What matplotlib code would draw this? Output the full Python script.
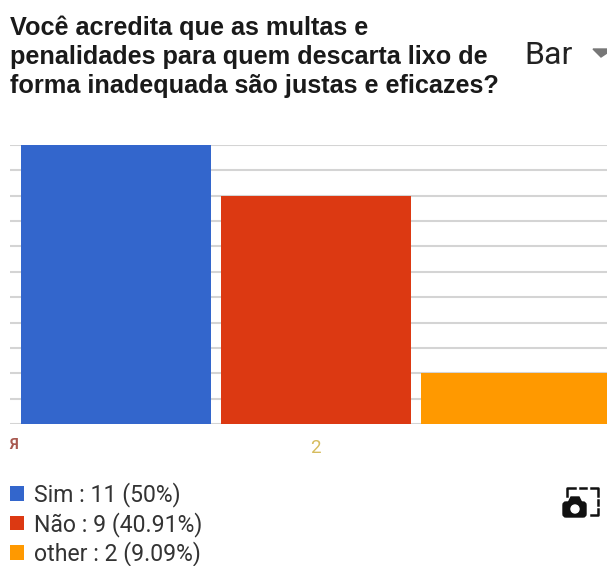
# -*- coding: utf-8 -*-
import matplotlib
matplotlib.use("Agg")
import matplotlib.pyplot as plt
from matplotlib.patches import Polygon, Circle, FancyBboxPatch

plt.rcParams["font.family"] = ["Roboto", "DejaVu Sans"]

# data
categories = ["Sim", "Não", "other"]
values = [11, 9, 2]
percents = ["50%", "40.91%", "9.09%"]
colors = ["#3366cc", "#dc3912", "#ff9900"]
title_lines = ["Você acredita que as multas e",
               "penalidades para quem descarta lixo de",
               "forma inadequada são justas e eficazes?"]

W, H = 607, 566
fig = plt.figure(figsize=(W / 100, H / 100), dpi=100, facecolor="white")

# overlay in pixel coordinates, for the things round the chart
over = fig.add_axes([0, 0, 1, 1])
over.set_xlim(0, W)
over.set_ylim(H, 0)
over.axis("off")

# chart area: left 10, right 607, top 145, bottom 424
ax = fig.add_axes([10 / W, 1 - 424 / H, 597 / W, 279 / H])
positions = list(range(len(values)))
bars = ax.bar(positions, values, width=0.95, color=colors, zorder=3)
ax.set_xlim(-0.53, 2.455)
ax.set_ylim(0, 11)
ax.set_yticks(range(0, 12))
ax.set_yticklabels([])
ax.grid(axis="y", color="#d4d4d4", linewidth=1.5, zorder=0)
ax.tick_params(length=0)
ax.set_xticks([])
for s in ax.spines.values():
    s.set_visible(False)

# the x labels: one readable, the others piled on top of each other
ax.annotate("2", (1, 0), xytext=(-0.7, -17), textcoords="offset points",
            ha="center", va="center", fontsize=13.5, color="#d6bc5e",
            annotation_clip=False)
over.text(14, 445, "Я", ha="center", va="center", fontsize=10.5,
          color="#a8584f", fontweight="bold")

for i, line in enumerate(title_lines):
    over.text(10, 28 + i * 29, line, fontsize=18.2, fontweight="bold",
              family="Liberation Sans", color="#1a1a1a", va="center", ha="left")

over.text(524, 55, "Bar", fontsize=23, color="#222222", va="center", ha="left")
over.add_patch(Polygon([[593, 49], [607, 49], [607, 53], [601, 57]],
                       closed=True, color="#777777"))

labels = [f"{c} : {v} ({p})" for c, v, p in zip(categories, values, percents)]
leg = fig.legend(bars, labels, loc="upper left", bbox_to_anchor=(5.5 / W, 1 - 477.5 / H),
                 bbox_transform=fig.transFigure, frameon=False, fontsize=16.6,
                 handlelength=0.6, handleheight=0.6, handletextpad=0.42,
                 labelspacing=0.2, borderpad=0.2, borderaxespad=0,
                 labelcolor="#333333")

# camera icon, bottom right
black = "#111111"
for seg in [[(567, 496), (567, 488), (575, 488)], [(580, 488), (586, 488)],
            [(591, 488), (598, 488), (598, 496)], [(598, 500), (598, 505)],
            [(598, 509), (598, 515), (591, 515)]]:
    xs, ys = zip(*seg)
    over.plot(xs, ys, color=black, linewidth=1.8)
over.add_patch(FancyBboxPatch((563, 502), 23, 15, boxstyle="round,pad=0,rounding_size=3",
                              color=black))
over.add_patch(Polygon([[568, 503], [571, 497], [579, 497], [582, 503]], color=black))
over.add_patch(Circle((575, 509), 4, color="white"))

fig.savefig("out.png", dpi=100)
